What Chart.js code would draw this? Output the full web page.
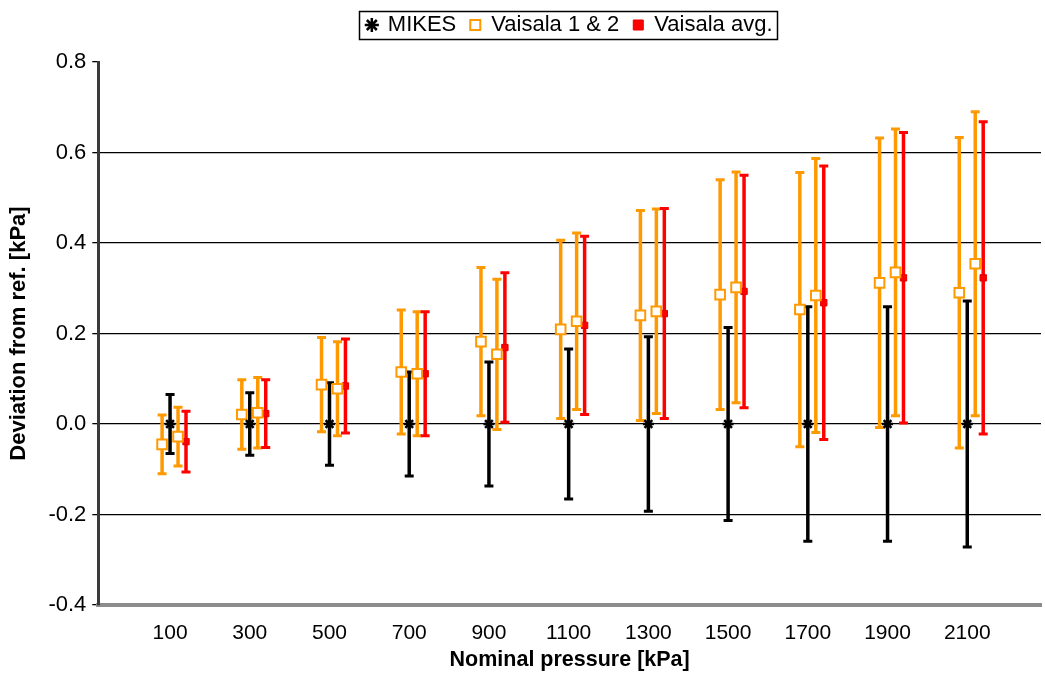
<!DOCTYPE html>
<html>
<head>
<meta charset="utf-8">
<title>Deviation from reference</title>
<script src="https://cdn.jsdelivr.net/npm/chart.js@4.4.1/dist/chart.umd.min.js"></script>
<style>
  html, body { margin: 0; padding: 0; background: #fff; }
  #wrap { width: 1045px; height: 673px; }
</style>
</head>
<body>
<div id="wrap"><canvas id="devChart" width="1045" height="673"></canvas></div>
<script>
// Nominal pressure steps [kPa]
var pressures = [100, 300, 500, 700, 900, 1100, 1300, 1500, 1700, 1900, 2100];
var tickLabels = ["100", "300", "500", "700", "900", "1100", "1300", "1500", "1700", "1900", "2100"];

// MIKES reference: deviation and uncertainty [kPa]
var mikesDev = [0, 0, 0, 0, 0, 0, 0, 0, 0, 0, 0];
var mikesUnc = [0.065, 0.069, 0.091, 0.115, 0.137, 0.166, 0.193, 0.213, 0.259, 0.259, 0.272];

// Vaisala transfer standards 1 and 2
var vaisala1Dev = [-0.045, 0.021, 0.087, 0.115, 0.182, 0.209, 0.240, 0.286, 0.253, 0.312, 0.290];
var vaisala1Unc = [0.065, 0.077, 0.104, 0.137, 0.164, 0.197, 0.232, 0.254, 0.303, 0.320, 0.343];
var vaisala2Dev = [-0.028, 0.025, 0.078, 0.111, 0.154, 0.227, 0.249, 0.302, 0.284, 0.335, 0.354];
var vaisala2Unc = [0.065, 0.078, 0.104, 0.137, 0.166, 0.195, 0.226, 0.255, 0.303, 0.317, 0.336];

// Vaisala average
var avgDev = [-0.039, 0.023, 0.084, 0.111, 0.169, 0.218, 0.244, 0.293, 0.268, 0.323, 0.323];
var avgUnc = [0.067, 0.075, 0.104, 0.137, 0.165, 0.197, 0.232, 0.257, 0.302, 0.321, 0.345];

// shift each series a little so the bars of one step sit side by side
var OFF_V1 = -20, OFF_V2 = 20, OFF_AVG = 40;

var FONT = "'Liberation Sans', Arial, sans-serif";

function makePoints(dev, unc, off) {
  return pressures.map(function (p, i) {
    return { x: p + off, y: dev[i], err: unc[i] };
  });
}

var vaisalaPoints = makePoints(vaisala1Dev, vaisala1Unc, OFF_V1)
  .concat(makePoints(vaisala2Dev, vaisala2Unc, OFF_V2));

// vertical error bars with caps, drawn under the markers
var errorBars = {
  id: "errorBars",
  beforeDatasetsDraw: function (chart) {
    var ctx = chart.ctx;
    var yScale = chart.scales.y;
    chart.data.datasets.forEach(function (ds, i) {
      var meta = chart.getDatasetMeta(i);
      if (meta.hidden) return;
      ctx.save();
      ctx.strokeStyle = ds.barColor;
      meta.data.forEach(function (pt, j) {
        var d = ds.data[j];
        var top = yScale.getPixelForValue(d.y + d.err);
        var bot = yScale.getPixelForValue(d.y - d.err);
        ctx.lineWidth = 3.5;
        ctx.beginPath();
        ctx.moveTo(pt.x, top);
        ctx.lineTo(pt.x, bot);
        ctx.stroke();
        ctx.lineWidth = 3;
        ctx.beginPath();
        ctx.moveTo(pt.x - 4.5, top);
        ctx.lineTo(pt.x + 4.5, top);
        ctx.moveTo(pt.x - 4.5, bot);
        ctx.lineTo(pt.x + 4.5, bot);
        ctx.stroke();
      });
      ctx.restore();
    });
  }
};

// pull the legend up to the top edge, then frame it
var LEGEND_LIFT = 16;
var legendFrame = {
  id: "legendFrame",
  afterLayout: function (chart) {
    var lg = chart.legend;
    lg.top -= LEGEND_LIFT;
    lg.bottom -= LEGEND_LIFT;
  },
  afterDraw: function (chart) {
    var boxes = chart.legend.legendHitBoxes;
    if (!boxes || !boxes.length) return;
    var first = boxes[0], last = boxes[boxes.length - 1];
    var left = Math.round(first.left) - 8;
    var right = Math.round(last.left + last.width) + 5;
    var top = Math.round(first.top) - 3;
    var bottom = Math.round(first.top + first.height) + 3;
    var ctx = chart.ctx;
    ctx.save();
    ctx.strokeStyle = "#000";
    ctx.lineWidth = 1.5;
    ctx.strokeRect(left + 0.5, top + 0.5, right - left, bottom - top);
    ctx.restore();
  }
};

function isEdge(v) {
  return Math.abs(v - 0.8) < 1e-6 || Math.abs(v + 0.4) < 1e-6;
}

new Chart(document.getElementById("devChart"), {
  type: "scatter",
  data: {
    datasets: [
      {
        label: "MIKES",
        data: makePoints(mikesDev, mikesUnc, 0),
        barColor: "#000000",
        pointStyle: "star",
        pointRadius: 5.5,
        borderColor: "#000000",
        backgroundColor: "#000000",
        borderWidth: 2.5
      },
      {
        label: "Vaisala 1 & 2",
        data: vaisalaPoints,
        barColor: "#FF9900",
        pointStyle: "rect",
        pointRadius: 6.8,
        borderColor: "#FF9900",
        backgroundColor: "#FFFFFF",
        borderWidth: 2
      },
      {
        label: "Vaisala avg.",
        data: makePoints(avgDev, avgUnc, OFF_AVG),
        barColor: "#FF0000",
        pointStyle: "rect",
        pointRadius: 4.5,
        borderColor: "#E00000",
        backgroundColor: "#FF0000",
        borderWidth: 1
      }
    ]
  },
  options: {
    responsive: false,
    animation: false,
    layout: { autoPadding: false, padding: { left: 6, right: 4, top: 16, bottom: 0 } },
    plugins: {
      tooltip: { enabled: false },
      legend: {
        position: "top",
        fullSize: false,
        labels: {
          usePointStyle: true,
          boxWidth: 10,
          boxHeight: 10,
          padding: 14,
          color: "#000",
          font: { family: FONT, size: 22 }
        }
      }
    },
    scales: {
      x: {
        type: "linear",
        min: -80,
        max: 2285,
        afterBuildTicks: function (scale) {
          scale.ticks = pressures.map(function (p) { return { value: p }; });
        },
        afterFit: function (scale) {
          scale.height = 68;
        },
        ticks: {
          autoSkip: false,
          maxRotation: 0,
          padding: 16,
          color: "#000",
          font: { family: FONT, size: 21 },
          callback: function (value) {
            var i = pressures.indexOf(value);
            return i >= 0 ? tickLabels[i] : "";
          }
        },
        grid: { drawOnChartArea: false, drawTicks: false },
        border: { color: "#8C8C8C", width: 4 },
        title: {
          display: true,
          text: "Nominal pressure [kPa]",
          color: "#000",
          padding: { top: 2, bottom: 0 },
          font: { family: FONT, size: 21.5, weight: "bold" }
        }
      },
      y: {
        min: -0.4,
        max: 0.8,
        ticks: {
          stepSize: 0.2,
          padding: 6,
          color: "#000",
          font: { family: FONT, size: 22 },
          callback: function (value) {
            if (Math.abs(value) < 1e-9) return "0.0";
            return value.toFixed(1);
          }
        },
        grid: {
          color: function (c) {
            return c.tick && isEdge(c.tick.value) ? "rgba(0,0,0,0)" : "#000";
          },
          lineWidth: 1.3,
          tickLength: 6,
          tickColor: "#000",
          tickWidth: 1.3
        },
        border: { color: "#3A3A3A", width: 3 },
        title: {
          display: true,
          text: "Deviation from ref. [kPa]",
          color: "#000",
          padding: { top: 0, bottom: 10 },
          font: { family: FONT, size: 22, weight: "bold" }
        }
      }
    }
  },
  plugins: [errorBars, legendFrame]
});
</script>
</body>
</html>
